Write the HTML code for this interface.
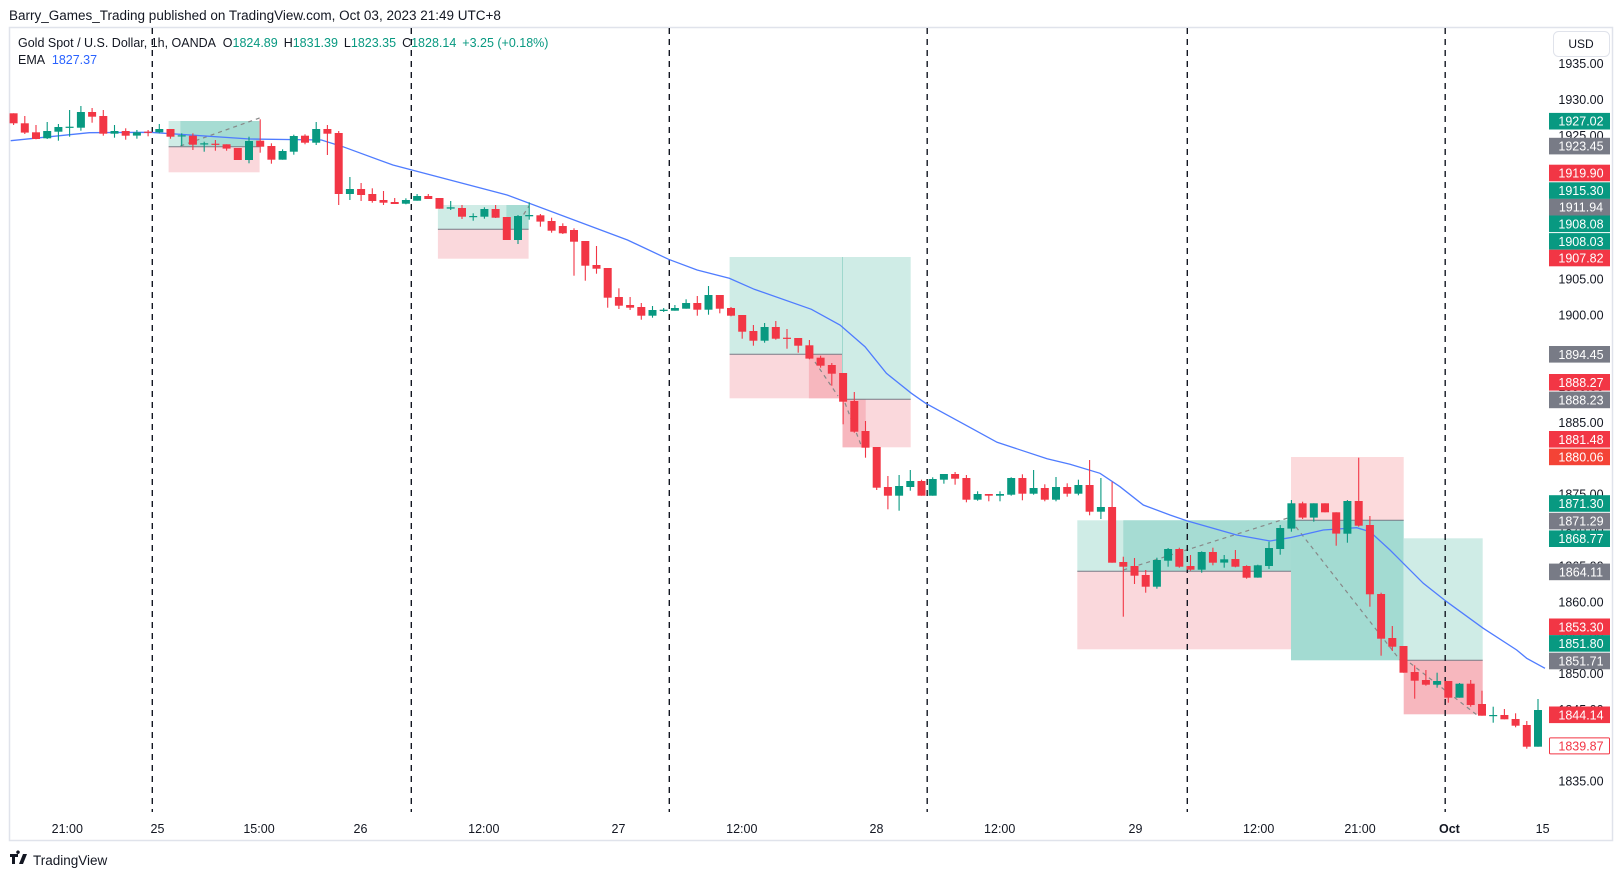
<!DOCTYPE html>
<html><head><meta charset="utf-8">
<style>
html,body{margin:0;padding:0;background:#fff;}
body{width:1622px;height:876px;overflow:hidden;font-family:"Liberation Sans",sans-serif;}
svg{position:absolute;left:0;top:0;}
text{font-family:"Liberation Sans",sans-serif;}
</style></head>
<body>
<svg id="s" width="1622" height="876" viewBox="0 0 1622 876" xmlns="http://www.w3.org/2000/svg">
<rect x="0" y="0" width="1622" height="876" fill="#fff"/>
<text x="9" y="20" font-size="13.5" fill="#131722">Barry_Games_Trading published on TradingView.com, Oct 03, 2023 21:49 UTC+8</text>
<rect x="9.5" y="27.5" width="1603" height="813" fill="#fff" stroke="#e0e3eb" stroke-width="1.5"/>
<g id="boxes"></g>
<g id="dash"></g>
<g id="ema"></g>
<g id="candles"></g>
<g id="axis"></g>
<text x="18" y="47" font-size="12.5" fill="#131722">Gold Spot / U.S. Dollar, 1h, OANDA <tspan dx="4">O</tspan><tspan fill="#089981">1824.89</tspan><tspan dx="6">H</tspan><tspan fill="#089981">1831.39</tspan><tspan dx="6">L</tspan><tspan fill="#089981">1823.35</tspan><tspan dx="6">C</tspan><tspan fill="#089981">1828.14</tspan><tspan dx="6" fill="#089981">+3.25 (+0.18%)</tspan></text>
<text x="18" y="64" font-size="12.5" fill="#131722">EMA <tspan dx="4" fill="#2962ff">1827.37</tspan></text>
<rect x="1553.5" y="31.5" width="56" height="25" rx="5" fill="#fff" stroke="#e0e3eb"/>
<text x="1581" y="48" font-size="12" fill="#131722" text-anchor="middle">USD</text>
<g transform="translate(10,853)"><path d="M0 1h8v3h-3v7h-3v-7h-2z M9 11l4-10h4l-4 10z M8 1a1.8 1.8 0 1 1 0.01 0z" fill="#131722"/></g>
<text x="33" y="865" font-size="13.5" fill="#131722">TradingView</text>
</svg>
<script>
var NS="http://www.w3.org/2000/svg";
function el(p,t,a,txt){var e=document.createElementNS(NS,t);for(var k in a)e.setAttribute(k,a[k]);if(txt!==undefined)e.textContent=txt;document.getElementById(p).appendChild(e);return e;}
var G="#089981",R="#f23645";
function rect(x1,y1,x2,y2,c){el("boxes","rect",{x:x1,y:y1,width:x2-x1,height:y2-y1,fill:c});}
function line(g,x1,y1,x2,y2,c,w,d){var a={x1:x1,y1:y1,x2:x2,y2:y2,stroke:c,"stroke-width":w};if(d)a["stroke-dasharray"]=d;el(g,"line",a);}
var LG="#cfece6",DG="#a6dcd3",LR="#fad8dc",DR="#f7b7be";
rect(168.6,121,259.6,146.7,LG);rect(180.4,121,259.6,146.7,DG);rect(168.6,146.7,259.6,172.3,LR);
line("boxes",168.6,146.7,259.6,146.7,"#787b86",1);
line("boxes",180.4,146,259.6,118,"#888",1.2,"4,4");
rect(437.9,205,528.6,229.3,LG);rect(506.4,205,528.6,229.3,DG);rect(437.9,229.3,528.6,258.7,LR);
line("boxes",437.9,229.3,528.6,229.3,"#787b86",1);
line("boxes",515,228,529,206,"#888",1.2,"4,4");
rect(729.6,257,842.5,354.3,LG);rect(729.6,354.3,842.5,398.3,LR);rect(808.9,354.3,842.5,398.3,DR);
line("boxes",729.6,354.3,842.5,354.3,"#787b86",1);
line("boxes",815,362,838,396,"#888",1.2,"4,4");
rect(842.5,257,910.7,399.3,LG);rect(842.5,399.3,910.7,447.3,LR);rect(842.5,399.3,865.7,447.3,DR);
line("boxes",842.5,399.3,910.7,399.3,"#787b86",1);
line("boxes",842.5,257,842.5,399,"#9fd8cd",1);
line("boxes",845,403,861,445,"#888",1.2,"4,4");
rect(1077.3,520.3,1291,571.3,LG);rect(1123.3,520.3,1291,571.3,DG);rect(1077.3,571.3,1291,649.3,LR);
line("boxes",1077.3,571.3,1291,571.3,"#787b86",1);
line("boxes",1123.3,570,1291,517,"#888",1.2,"4,4");
rect(1291,457,1403.7,520.3,"#fcdadc");rect(1291,520.3,1403.7,660.3,"#a3dbd2");
line("boxes",1291,520.3,1403.7,520.3,"#787b86",1);
line("boxes",1296,527,1400,660,"#888",1.2,"4,4");
rect(1403.7,538.3,1482.7,660.3,LG);rect(1403.7,660.3,1482.7,714.3,DR);
line("boxes",1403.7,660.3,1482.7,660.3,"#787b86",1);
line("boxes",1410,663,1477,715,"#888",1.2,"4,4");
[152.3,411.3,669.3,927.2,1187.3,1445.2].forEach(function(x){line("dash",x,28,x,812,"#131722",1.4,"6,5");});
var pts=[];
[[30,152],[250,128],[420,127],[700,147],[900,150],[960,170],[1100,225],[1420,315]].forEach(function(p){pts.push([p[0]/2.8,90+p[1]/3]);});
[[245,0],[360,58],[440,90],[530,115],[600,148],[760,208],[840,255],[910,320],[970,400],[1040,460],[1080,490],[1200,560],[1280,607],[1420,656]].forEach(function(p){pts.push([540+p[0]/2.8,240+p[1]/3]);});
[[0,73],[90,100],[150,140],[220,195],[300,225],[350,242],[500,285],[600,303],[660,293],[760,270],[860,263],[900,275],[960,330],[1000,370],[1060,430],[1130,485],[1240,565],[1340,630],[1370,655],[1425,685]].forEach(function(p){pts.push([1070+p[0]/3,440+p[1]/3]);});
el("ema","polyline",{points:pts.map(function(p){return p[0].toFixed(1)+","+p[1].toFixed(1);}).join(" "),fill:"none",stroke:"#4f7cff","stroke-width":1.3});
var C3=[["r",70,100,70,105],["r",100,128,78,132],["r",127,147,105,148],["g",123,145,96,147],["g",111,125,102,152],["g",110,113,60,140],["g",66,113,48,122],["r",66,80,54,98],["r",78,131,60,137],["g",123,131,105,143],["r",123,137,115,149],["g",127,137,120,146],["r",125,128,120,139],["g",117,127,102,130],["r",117,140,117,146],["g",136,139,130,168],["r",137,164,130,180],["g",160,163,155,185],["r",161,164,150,182],["r",163,176,163,182],["r",174,210,174,210],["g",153,210,140,220],["r",152,170,88,188],["r",168,209,160,221],["g",183,209,178,195],["g",138,185,134,194],["r",137,158,133,163],["g",117,158,96,165],["r",117,131,105,195],["r",129,312,123,345],["g",297,312,261,330],["r",297,315,279,333],["r",312,333,295,338],["r",330,338,303,345],["r",336,342,324,342],["g",330,341,325,343],["g",318,332,312,332],["r",318,327,312,327],["r",324,356,324,356],["g",352,356,333,360],["r",354,380,345,387],["g",378,381,370,392],["g",357,380,352,386],["r",357,383,345,384],["r",381,450,381,450],["g",378,450,375,462],["g",375,379,337,389],["r",376,395,372,410],["r",393,422,383,428],["r",408,430,400,432]];
var C4=[["r",-30,5,-35,107],["r",3,77,3,122],["r",75,86,18,101],["r",84,173,84,203],["r",171,197,145,207],["r",195,203,171,210],["r",201,227,189,239],["g",210,227,198,233],["g",209,213,204,216],["g",204,212,195,212],["g",189,206,178,206],["r",189,209,168,227],["g",165,209,138,224],["r",165,206,165,220],["r",204,227,201,229],["r",225,275,225,296],["r",273,302,255,317],["g",261,302,249,308],["r",261,296,243,299],["r",293,296,267,326],["r",294,317,294,338],["r",316,356,300,358],["r",353,377,347,383],["r",375,401,369,437],["r",399,485,399,553],["r",483,575,456,578],["r",573,623,543,653],["r",621,743,621,750],["r",741,767,708,808],["g",738,767,705,812],["g",723,741,690,752],["r",723,767,719,767],["g",717,767,712,767],["g",702,719,702,731],["r",702,716,696,734],["r",714,779,705,787],["g",762,779,754,782],["r",762,767,762,784],["g",762,767,754,784],["g",714,764,712,767],["r",714,761,703,781],["g",744,761,690,764],["r",744,779,733,784],["g",741,779,711,784],["r",741,761,730,770],["g",735,761,719,766],["r",735,815,660,826],["g",801,815,714,837]];
var C5=[["r",201,368,125,368],["r",366,380,350,530],["r",378,407,354,432],["r",405,440,390,458],["g",360,440,353,446],["g",327,362,324,380],["r",327,380,323,383],["r",378,389,345,392],["g",336,389,334,398],["r",336,368,323,376],["g",358,368,345,383],["r",357,380,330,382],["r",378,413,376,416],["g",376,413,374,413],["g",324,378,305,387],["g",264,327,255,344],["g",190,266,180,275],["r",190,233,185,237],["g",190,233,190,245],["r",190,217,190,217],["r",217,281,217,317],["g",183,281,180,308],["r",183,257,53,260],["r",255,463,228,500],["r",462,596,458,647],["r",594,620,558,633],["r",618,698,618,698],["r",696,722,676,776],["r",720,734,690,737],["g",723,734,698,743],["r",723,773,723,788],["g",731,773,729,773],["r",731,795,720,800],["r",792,827,752,827],["g",825,828,800,848],["r",825,838,807,838],["r",837,857,820,862],["r",855,920,843,926],["g",810,920,777,920]];
var all=[];
C3.forEach(function(c){all.push([c[0],90+c[1]/3,90+c[2]/3,90+c[3]/3,90+c[4]/3]);});
C4.forEach(function(c){all.push([c[0],240+c[1]/3,240+c[2]/3,240+c[3]/3,240+c[4]/3]);});
C5.forEach(function(c){all.push([c[0],440+c[1]/3,440+c[2]/3,440+c[3]/3,440+c[4]/3]);});
var n=all.length,x0=13.6,dx=(1538-13.6)/(n-1);
all.forEach(function(c,i){var x=x0+i*dx,col=c[0]=="g"?G:R;
 var t=Math.min(c[1],c[2]),b=Math.max(c[1],c[2]);if(b-t<1.2){b=t+1.2;}
 el("candles","line",{x1:x.toFixed(1),x2:x.toFixed(1),y1:Math.min(c[3],t).toFixed(1),y2:Math.max(c[4],b).toFixed(1),stroke:col,"stroke-width":1.1});
 el("candles","rect",{x:(x-4).toFixed(1),y:t.toFixed(1),width:8,height:(b-t).toFixed(1),fill:col});
});
for(var p=1835;p<=1935;p+=5){var y=99.5+(1930-p)*7.175;el("axis","text",{x:1581,y:(y+4.5).toFixed(1),"font-size":12.5,fill:"#131722","text-anchor":"middle"},p.toFixed(2));}
[[67.3,"21:00"],[157.5,"25"],[259,"15:00"],[360.5,"26"],[483.8,"12:00"],[618.5,"27"],[741.8,"12:00"],[876.5,"28"],[999.7,"12:00"],[1135.5,"29"],[1258.7,"12:00"],[1360,"21:00"],[1449.4,"Oct"],[1542.6,"15"]].forEach(function(t){var a={x:t[0],y:833,"font-size":12.5,fill:"#131722","text-anchor":"middle"};if(t[1]=="Oct")a["font-weight"]="bold";el("axis","text",a,t[1]);});
var GR="#787b86";
[[117,"1927.02",G],[141,"1923.45",GR],[167,"1919.90",R],[184,"1915.30",G],[200,"1911.94",GR],[216,"1908.08",G],[233,"1908.03",G],[249,"1907.82",R],[342,"1894.45",GR],[369,"1888.27",R],[386,"1888.23",GR],[424,"1881.48",R],[441,"1880.06","#f44336"],[486,"1871.30",G],[503,"1871.29",GR],[520,"1868.77",G],[552,"1864.11",GR],[605,"1853.30",R],[621,"1851.80",G],[638,"1851.71",GR],[690,"1844.14",R]].forEach(function(b){var y=b[0]*1.036;
 el("axis","rect",{x:1549,y:(y-8.3).toFixed(1),width:61,height:16.6,fill:b[2]});
 el("axis","text",{x:1581,y:(y+4.5).toFixed(1),"font-size":12.5,fill:"#fff","text-anchor":"middle"},b[1]);});
var yy=720*1.036;
el("axis","rect",{x:1549.5,y:(yy-8).toFixed(1),width:60,height:16,fill:"#fff",stroke:R,rx:1});
el("axis","text",{x:1581,y:(yy+4.5).toFixed(1),"font-size":12.5,fill:R,"text-anchor":"middle"},"1839.87");
</script>
</body></html>
